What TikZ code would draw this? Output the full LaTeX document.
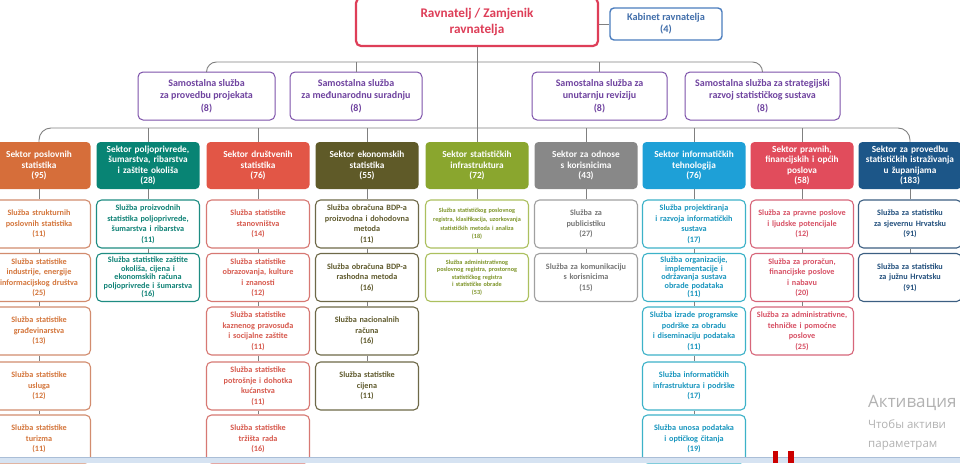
\documentclass[tikz,border=0pt]{standalone}
\usepackage{fontspec}
\setmainfont{Carlito}
\newfontfamily\wmfont{Open Sans}
\usetikzlibrary{backgrounds}
\definecolor{lineg}{RGB}{128,128,128}
\definecolor{topred}{RGB}{222,62,88}
\definecolor{kabblue}{RGB}{75,125,190}
\definecolor{kabtxt}{RGB}{65,110,170}
\definecolor{purp}{RGB}{125,82,170}
\definecolor{purptxt}{RGB}{112,68,160}
\definecolor{fA}{RGB}{214,110,58}\definecolor{bA}{RGB}{210,140,110}\definecolor{tA}{RGB}{212,118,60}
\definecolor{fB}{RGB}{8,132,116}\definecolor{bB}{RGB}{30,140,130}\definecolor{tB}{RGB}{15,130,118}
\definecolor{fC}{RGB}{226,86,70}\definecolor{bC}{RGB}{215,120,115}\definecolor{tC}{RGB}{215,90,78}
\definecolor{fD}{RGB}{95,90,40}\definecolor{bD}{RGB}{110,105,72}\definecolor{tD}{RGB}{95,90,45}
\definecolor{fE}{RGB}{138,166,46}\definecolor{bE}{RGB}{172,192,95}\definecolor{tE}{RGB}{125,148,40}
\definecolor{fF}{RGB}{136,136,136}\definecolor{bF}{RGB}{160,160,160}\definecolor{tF}{RGB}{118,118,118}
\definecolor{fG}{RGB}{30,160,215}\definecolor{bG}{RGB}{60,178,200}\definecolor{tG}{RGB}{25,150,190}
\definecolor{fH}{RGB}{225,76,92}\definecolor{bH}{RGB}{215,102,122}\definecolor{tH}{RGB}{215,80,100}
\definecolor{fI}{RGB}{28,86,136}\definecolor{bI}{RGB}{60,95,130}\definecolor{tI}{RGB}{35,80,125}
\definecolor{wm}{RGB}{178,178,178}
\definecolor{taskbar}{RGB}{214,227,242}
\definecolor{taskline}{RGB}{170,190,215}
\tikzset{
  conn/.style={draw=lineg, line width=0.9pt},
  secbox/.style={rounded corners=4pt, minimum width=103pt, minimum height=47pt, text width=102pt, align=center, inner sep=0pt, text=white, font=\bfseries\fontsize{9.3}{10.5}\selectfont},
  srvbox/.style={draw, fill=white, line width=1.1pt, rounded corners=5pt, minimum width=103pt, minimum height=48pt, text width=102pt, align=center, inner sep=0pt, font=\bfseries\fontsize{8.2}{10.5}\selectfont},
  dense/.style={font=\bfseries\fontsize{8.2}{8.6}\selectfont},
  tinytext/.style={font=\bfseries\fontsize{6.2}{8.8}\selectfont},
  tinydense/.style={font=\bfseries\fontsize{6.2}{7.6}\selectfont},
  samobox/.style={draw=purp, line width=1pt, fill=white, rounded corners=5pt, minimum height=48pt, align=center, text=purptxt, inner sep=0pt, font=\bfseries\fontsize{10}{12.5}\selectfont},
  sA/.style={srvbox, draw=bA, text=tA}, sB/.style={srvbox, draw=bB, text=tB},
  sC/.style={srvbox, draw=bC, text=tC}, sD/.style={srvbox, draw=bD, text=tD},
  sE/.style={srvbox, draw=bE, text=tE}, sF/.style={srvbox, draw=bF, text=tF},
  sG/.style={srvbox, draw=bG, text=tG}, sH/.style={srvbox, draw=bH, text=tH},
  sI/.style={srvbox, draw=bI, text=tI},
}
\begin{document}
\begin{tikzpicture}[x=1pt,y=-1pt]
\useasboundingbox (0,0) rectangle (960,463);
\clip (0,0) rectangle (960,463);
\fill[white] (0,0) rectangle (960,463);

% top level
\node[draw=topred, line width=2.2pt, rounded corners=5pt, fill=white, minimum width=242pt, minimum height=48pt, align=center, text=topred, inner sep=0pt, font=\bfseries\fontsize{13.2}{16.5}\selectfont] (top) at (477,22) {Ravnatelj / Zamjenik\\ravnatelja};
\node[draw=kabblue, line width=1.4pt, rounded corners=4pt, fill=white, minimum width=112pt, minimum height=32pt, align=center, text=kabtxt, inner sep=0pt, font=\bfseries\fontsize{10.3}{12}\selectfont] (kab) at (666,24) {Kabinet ravnatelja\\(4)};

% independent services
\node[samobox, minimum width=137pt] (samo1) at (206.5,96) {Samostalna služba\\za provedbu projekata\\(8)};
\node[samobox, minimum width=132pt] (samo2) at (356,96) {Samostalna služba\\za međunarodnu suradnju\\(8)};
\node[samobox, minimum width=135pt] (samo3) at (599.5,96) {Samostalna služba za\\unutarnju reviziju\\(8)};
\node[samobox, minimum width=155pt] (samo4) at (762.5,96) {Samostalna služba za strategijski\\razvoj statističkog sustava\\(8)};
\begin{scope}[on background layer]
\foreach \s in {1,2,3,4}{
  \fill[purp, rounded corners=5pt] ([xshift=-2.5pt,yshift=2.5pt]samo\s.south west) rectangle ([xshift=-2.5pt,yshift=2.5pt]samo\s.north east);
}
\end{scope}

% sectors
\node[secbox, fill=fA] (secA) at (39,165.5) {Sektor poslovnih\\statistika\\(95)};
\node[secbox, fill=fB] (secB) at (148,165.5) {Sektor poljoprivrede,\\šumarstva, ribarstva\\i zaštite okoliša\\(28)};
\node[secbox, fill=fC] (secC) at (258,165.5) {Sektor društvenih\\statistika\\(76)};
\node[secbox, fill=fD] (secD) at (367,165.5) {Sektor ekonomskih\\statistika\\(55)};
\node[secbox, fill=fE] (secE) at (477,165.5) {Sektor statističkih\\infrastruktura\\(72)};
\node[secbox, fill=fF] (secF) at (586,165.5) {Sektor za odnose\\s korisnicima\\(43)};
\node[secbox, fill=fG] (secG) at (694,165.5) {Sektor informatičkih\\tehnologija\\(76)};
\node[secbox, fill=fH] (secH) at (802,165.5) {Sektor pravnih,\\financijskih i općih\\poslova\\(58)};
\node[secbox, fill=fI] (secI) at (910,165.5) {Sektor za provedbu\\statističkih istraživanja\\u županijama\\(183)};

% services
\node[sA] (A1) at (39,224) {Služba strukturnih\\poslovnih statistika\\(11)};
\node[sA] (A2) at (39,277.5) {Služba statistike\\industrije, energije\\informacijskog društva\\(25)};
\node[sA] (A3) at (39,331) {Služba statistike\\građevinarstva\\(13)};
\node[sA] (A4) at (39,386) {Služba statistike\\usluga\\(12)};
\node[sA] (A5) at (39,439) {Služba statistike\\turizma\\(11)};

\node[sB] (B1) at (148,224) {Služba proizvodnih\\statistika poljoprivrede,\\šumarstva i ribarstva\\(11)};
\node[sB, dense] (B2) at (148,277.5) {Služba statistike zaštite\\okoliša, cijena i\\ekonomskih računa\\poljoprivrede i šumarstva\\(16)};

\node[sC] (C1) at (258,224) {Služba statistike\\stanovništva\\(14)};
\node[sC] (C2) at (258,277.5) {Služba statistike\\obrazovanja, kulture\\i znanosti\\(12)};
\node[sC] (C3) at (258,331) {Služba statistike\\kaznenog pravosuđa\\i socijalne zaštite\\(11)};
\node[sC] (C4) at (258,386) {Služba statistike\\potrošnje i dohotka\\kućanstva\\(11)};
\node[sC] (C5) at (258,439) {Služba statistike\\tržišta rada\\(16)};

\node[sD] (D1) at (367,224) {Služba obračuna BDP-a\\proizvodna i dohodovna\\metoda\\(11)};
\node[sD] (D2) at (367,277.5) {Služba obračuna BDP-a\\rashodna metoda\\(16)};
\node[sD] (D3) at (367,331) {Služba nacionalnih\\računa\\(16)};
\node[sD] (D4) at (367,386) {Služba statistike\\cijena\\(11)};

\node[sE, tinytext] (E1) at (477,224) {Služba statističkog poslovnog\\registra, klasifikacija, uzorkovanja\\statističkih metoda i analiza\\(18)};
\node[sE, tinydense] (E2) at (477,277.5) {Služba administrativnog\\poslovnog registra, prostornog\\statističkog registra\\i statističke obrade\\(53)};

\node[sF] (F1) at (586,224) {Služba za\\publicistiku\\(27)};
\node[sF] (F2) at (586,277.5) {Služba za komunikaciju\\s korisnicima\\(15)};

\node[sG] (G1) at (694,224) {Služba projektiranja\\i razvoja informatičkih\\sustava\\(17)};
\node[sG, dense] (G2) at (694,277.5) {Služba organizacije,\\implementacije i\\održavanja sustava\\obrade podataka\\(11)};
\node[sG] (G3) at (694,331) {Služba izrade programske\\podrške za obradu\\i diseminaciju podataka\\(11)};
\node[sG] (G4) at (694,386) {Služba informatičkih\\infrastruktura i podrške\\(17)};
\node[sG] (G5) at (694,439) {Služba unosa podataka\\i optičkog čitanja\\(19)};

\node[sH] (H1) at (802,224) {Služba za pravne poslove\\i ljudske potencijale\\(12)};
\node[sH] (H2) at (802,277.5) {Služba za proračun,\\financijske poslove\\i nabavu\\(20)};
\node[sH] (H3) at (802,331) {Služba za administrativne,\\tehničke i pomoćne\\poslove\\(25)};

\node[sI] (I1) at (910,224) {Služba za statistiku\\za sjevernu Hrvatsku\\(91)};
\node[sI] (I2) at (910,277.5) {Služba za statistiku\\za južnu Hrvatsku\\(91)};

% connectors
\coordinate (ubar) at (477,62);
\coordinate (sbar) at (477,128);
\draw[conn] (top.east |- kab.west) -- (kab.west);
\draw[conn] (top.south) -- (secE.north);
\draw[conn, rounded corners=10pt] (samo1.north) |- (ubar) -| (samo4.north);
\foreach \s in {2,3}{\draw[conn] (samo\s.north) -- (samo\s.north |- ubar);}
\draw[conn, rounded corners=12pt] (secA.north) |- (sbar) -| (secI.north);
\foreach \s in {B,C,D,F,G,H}{\draw[conn] (sec\s.north) -- (sec\s.north |- sbar);}
\draw[conn] (secA) -- (A1) -- (A2) -- (A3) -- (A4) -- (A5);
\draw[conn] (secB) -- (B1) -- (B2);
\draw[conn] (secC) -- (C1) -- (C2) -- (C3) -- (C4) -- (C5);
\draw[conn] (secD) -- (D1) -- (D2) -- (D3) -- (D4);
\draw[conn] (secE) -- (E1) -- (E2);
\draw[conn] (secF) -- (F1) -- (F2);
\draw[conn] (secG) -- (G1) -- (G2) -- (G3) -- (G4) -- (G5);
\draw[conn] (secH) -- (H1) -- (H2) -- (H3);
\draw[conn] (secI) -- (I1) -- (I2);

% watermark of the screenshot (visible part)
\node[anchor=base west, inner sep=0pt, text=wm, font=\wmfont\fontsize{17}{17}\selectfont] (wm1) at (868,407) {Активация};
\node[anchor=base west, inner sep=0pt, text=wm, font=\wmfont\fontsize{11.5}{12}\selectfont] (wm2) at (868,428) {Чтобы активи};
\node[anchor=base west, inner sep=0pt, text=wm, font=\wmfont\fontsize{11.5}{12}\selectfont] (wm3) at (868,447) {параметрам};

% taskbar strip
\fill[taskbar] (0,457) rectangle (960,463);
\draw[taskline, line width=0.8pt] (0,457) -- (960,457);
\fill[red!80!black] (773,451) rectangle (778,463);
\fill[red!80!black] (788,451) rectangle (794,463);
\end{tikzpicture}
\end{document}
